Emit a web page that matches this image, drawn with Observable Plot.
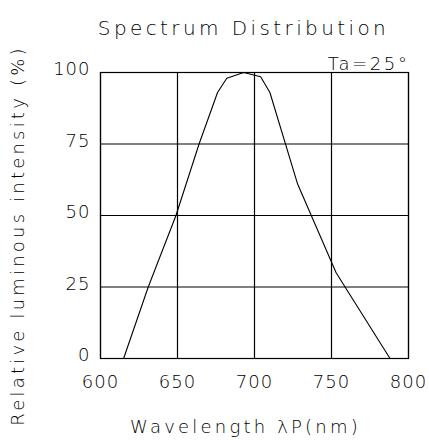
<!DOCTYPE html>
<html>
<head>
<meta charset="utf-8">
<script src="https://cdn.jsdelivr.net/npm/d3@7"></script>
<script src="https://cdn.jsdelivr.net/npm/@observablehq/plot@0.6"></script>
<style>
  html, body { margin: 0; padding: 0; background: #fff; }
  svg { font-family: "DejaVu Sans", sans-serif; font-weight: 200; }
</style>
</head>
<body>
<div id="chart"></div>
<script>
const wavelength = [615, 631, 649, 664, 676, 682, 693, 704, 710, 728, 753, 788];
const intensity  = [0,   25,  50,  75,  93,  98,  100, 98.5, 93, 61,  30,  0];
const xTicks = [600, 650, 700, 750, 800];
const yTicks = [0, 25, 50, 75, 100];
const title = "Spectrum Distribution";
const note = "Ta=25°";
const xLabel = "Wavelength λP(nm)";
const yLabel = "Relative luminous intensity (%)";

const data = wavelength.map((w, i) => ({w, v: intensity[i]}));

const chart = Plot.plot({
  width: 429,
  height: 443,
  marginLeft: 100,
  marginRight: 21,
  marginTop: 72,
  marginBottom: 85,
  style: {fontSize: "17px", color: "#000", background: "#fff"},
  x: {domain: [600, 800], ticks: xTicks, tickSize: 0, tickPadding: 17, label: null},
  y: {domain: [0, 100], ticks: yTicks, tickSize: 0, tickPadding: 10, label: null},
  marks: [
    Plot.gridX(xTicks, {stroke: "#000", strokeOpacity: 1, strokeWidth: 1.2}),
    Plot.gridY(yTicks, {stroke: "#000", strokeOpacity: 1, strokeWidth: 1.2}),
    Plot.frame({stroke: "#000", strokeWidth: 1.2}),
    Plot.axisX({ticks: xTicks, tickSize: 0, tickPadding: 17, fontSize: 18, label: null, fill: "#000"}),
    Plot.axisY({ticks: yTicks, tickSize: 0, tickPadding: 10, fontSize: 18, label: null, dy: -3, fill: "#000"}),
    Plot.line(data, {x: "w", y: "v", stroke: "#000", strokeWidth: 1.1}),
    Plot.text([title], {frameAnchor: "top", dy: -52, dx: -11, fontSize: 20, fill: "#000"}),
    Plot.text([note], {frameAnchor: "top-right", dy: -15, dx: 1, textAnchor: "end", fontSize: 18, fill: "#000"}),
    Plot.text([xLabel], {frameAnchor: "bottom", dy: 74, dx: -9, fontSize: 18, fill: "#000"}),
    Plot.text([yLabel], {frameAnchor: "left", dx: -82, dy: 20, rotate: -90, textAnchor: "middle", fontSize: 18, fill: "#000"})
  ]
});
const spacing = new Map([
  [title, "3.4px"], [note, "2.6px"], [xLabel, "3.2px"], [yLabel, "3.2px"]
]);
d3.select(chart).selectAll("text").each(function () {
  const t = this.textContent;
  this.style.letterSpacing = spacing.has(t) ? spacing.get(t) : "1px";
});
document.getElementById("chart").appendChild(chart);
</script>
</body>
</html>
